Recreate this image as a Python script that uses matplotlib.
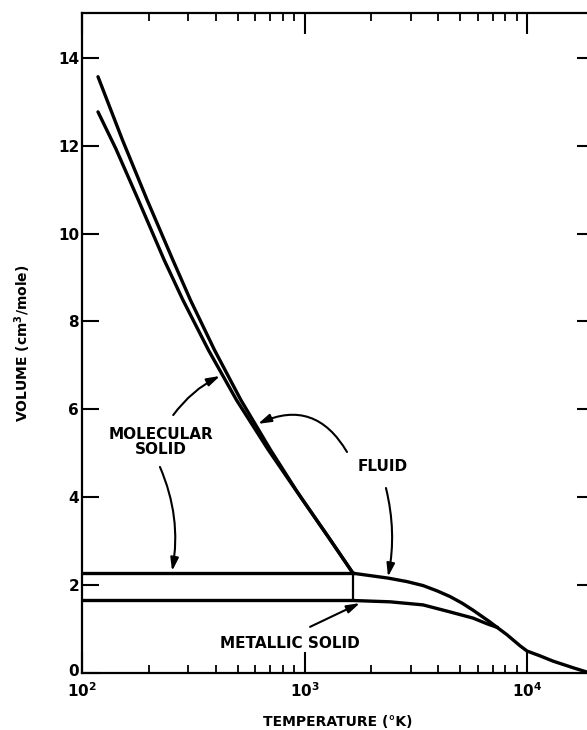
import matplotlib
matplotlib.use('Agg')
import matplotlib.pyplot as plt
from matplotlib.ticker import FixedLocator, NullFormatter, LogLocator
from matplotlib.transforms import ScaledTranslation

plt.rcParams['font.family'] = ['DejaVu Sans']
plt.rcParams['font.weight'] = 'bold'
plt.rcParams['mathtext.default'] = 'bf'

# ---- data ----
fluid_melt_T = [118, 152, 196, 256, 307, 394, 518, 703, 915, 981, 1306, 1652]
fluid_melt_V = [13.57, 12.13, 10.77, 9.40, 8.49, 7.35, 6.21, 5.08, 4.17, 3.94, 3.03, 2.27]
molsolid_melt_T = [118, 142, 179, 234, 284, 370, 495, 687, 912, 981, 1306, 1652]
molsolid_melt_V = [12.77, 11.93, 10.77, 9.40, 8.49, 7.35, 6.21, 5.08, 4.17, 3.94, 3.03, 2.27]
molsolid_T = [100, 1652]
molsolid_V = [2.27, 2.27]
fluid_T = [1652, 2373, 2889, 3409, 3940, 4508, 5105, 5718, 6819, 7330, 8130, 9301,
           10000, 11440, 13090, 16100, 19190]
fluid_V = [2.27, 2.16, 2.08, 1.99, 1.87, 1.74, 1.59, 1.43, 1.16, 1.04, 0.87, 0.62,
           0.50, 0.39, 0.27, 0.12, 0.0]
metal_T = [100, 1652, 2423, 3409, 4508, 5718, 6610, 7330]
metal_V = [1.65, 1.65, 1.62, 1.55, 1.39, 1.25, 1.12, 1.04]
transition_T = [1652, 1652]
transition_V = [1.65, 2.27]

x_tick_values = [1e2, 1e3, 1e4]
x_tick_labels = [r'$10^{2}$', r'$10^{3}$', r'$10^{4}$']
y_tick_values = [0, 2, 4, 6, 8, 10, 12, 14]
y_tick_labels = ['0', '2', '4', '6', '8', '10', '12', '14']

# ---- figure ----
W, H = 587, 730
fig = plt.figure(figsize=(W / 100, H / 100), dpi=100)
ax = fig.add_axes([82 / W, 1 - 673 / H, (594 - 82) / W, (673 - 13) / H])
ax.set_xscale('log')
ax.set_xlim(100, 2e4)
ax.set_ylim(0, 15.02)

lw = 2.4
ax.plot(fluid_melt_T, fluid_melt_V, color='black', lw=lw, solid_capstyle='round',
        solid_joinstyle='round')
ax.plot(molsolid_melt_T, molsolid_melt_V, color='black', lw=lw, solid_capstyle='round',
        solid_joinstyle='round')
ax.plot(molsolid_T, molsolid_V, color='black', lw=lw)
ax.plot(fluid_T, fluid_V, color='black', lw=lw, solid_joinstyle='round')
ax.plot(metal_T, metal_V, color='black', lw=lw, solid_joinstyle='round')
ax.plot(transition_T, transition_V, color='black', lw=1.6)

# ticks
ax.xaxis.set_major_locator(FixedLocator(x_tick_values))
ax.set_xticklabels(x_tick_labels)
ax.xaxis.set_minor_locator(LogLocator(base=10, subs=range(2, 10)))
ax.xaxis.set_minor_formatter(NullFormatter())
ax.set_yticks(y_tick_values)
ax.set_yticklabels(y_tick_labels)

ax.tick_params(axis='x', which='major', direction='in', length=15, width=1.5,
               top=True, bottom=True, labelsize=11, pad=6)
ax.tick_params(axis='x', which='minor', direction='in', length=5.5, width=1.3,
               top=True, bottom=True)
ax.tick_params(axis='y', which='major', direction='in', length=12, width=1.5,
               left=True, right=True, labelsize=11, pad=2)
for s in ax.spines.values():
    s.set_linewidth(1.6)

# nudge the "0" label up slightly so it clears the 10^2 label (as in the reference)
zero_lbl = ax.get_yticklabels()[0]
zero_lbl.set_transform(zero_lbl.get_transform() +
                       ScaledTranslation(0, 2.5 / 72, fig.dpi_scale_trans))

ax.set_xlabel('TEMPERATURE (°K)', fontsize=10, fontweight='bold', labelpad=11)
ax.set_ylabel('VOLUME (cm$^3$/mole)', fontsize=10, fontweight='bold', labelpad=18)

# annotations
tfs = 11
ax.text(226, 5.26, 'MOLECULAR\nSOLID', ha='center', va='center', fontsize=tfs,
        fontweight='bold', linespacing=1.05)
ax.text(2253, 4.69, 'FLUID', ha='center', va='center', fontsize=tfs, fontweight='bold')
ax.text(861, 0.68, 'METALLIC SOLID', ha='center', va='center', fontsize=tfs,
        fontweight='bold')

aprops = dict(arrowstyle='-|>,head_length=0.65,head_width=0.2', color='black',
              lw=1.5, shrinkA=0, shrinkB=0, mutation_scale=12)

def arrow(start, end, rad):
    ax.annotate('', xy=end, xytext=start, xycoords='data', textcoords='data',
                arrowprops=dict(aprops, connectionstyle=f'arc3,rad={rad}'))

arrow((257, 5.87), (417, 6.76), -0.12)
arrow((224, 4.69), (254, 2.32), -0.15)
arrow((1552, 5.03), (618, 5.67), 0.45)
arrow((2323, 4.21), (2373, 2.19), -0.11)
arrow((1059, 1.05), (1774, 1.59), 0.0)

fig.savefig('out.png', dpi=100)
